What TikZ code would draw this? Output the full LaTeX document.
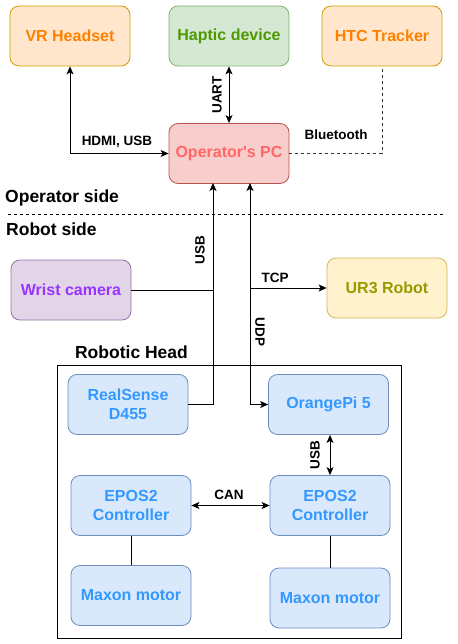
\documentclass[tikz,border=0pt]{standalone}
\usepackage{fontspec}
\setmainfont{Liberation Sans}
\usetikzlibrary{arrows.meta}
\definecolor{orFill}{HTML}{FFE6CC}\definecolor{orLine}{HTML}{D79B00}\definecolor{orText}{HTML}{FF8000}
\definecolor{grFill}{HTML}{D5E8D4}\definecolor{grLine}{HTML}{82B366}\definecolor{grText}{HTML}{4D9900}
\definecolor{rdFill}{HTML}{F8CECC}\definecolor{rdLine}{HTML}{B85450}\definecolor{rdText}{HTML}{FF6666}
\definecolor{puFill}{HTML}{E1D5E7}\definecolor{puLine}{HTML}{9673A6}\definecolor{puText}{HTML}{9933FF}
\definecolor{yeFill}{HTML}{FFF2CC}\definecolor{yeLine}{HTML}{D6B656}\definecolor{yeText}{HTML}{999900}
\definecolor{blFill}{HTML}{DAE8FC}\definecolor{blLine}{HTML}{6C8EBF}\definecolor{blText}{HTML}{3399FF}
\begin{document}
\begin{tikzpicture}[x=1pt,y=-1pt,
  box/.style={rectangle, rounded corners=9pt, minimum width=120pt, minimum height=60pt,
    line width=0.8pt, align=center, font=\bfseries\fontsize{16}{19}\selectfont, inner sep=2pt},
  orbox/.style={box, fill=orFill, draw=orLine, text=orText},
  grbox/.style={box, fill=grFill, draw=grLine, text=grText},
  rdbox/.style={box, fill=rdFill, draw=rdLine, text=rdText},
  pubox/.style={box, fill=puFill, draw=puLine, text=puText},
  yebox/.style={box, fill=yeFill, draw=yeLine, text=yeText},
  blbox/.style={box, fill=blFill, draw=blLine, text=blText},
  conn/.style={line width=0.9pt, draw=black},
  arr/.style={conn, -{Stealth[length=8pt,width=7pt,inset=2pt]}},
  darr/.style={conn, {Stealth[length=8pt,width=7pt,inset=2pt]}-{Stealth[length=8pt,width=7pt,inset=2pt]}},
  lbl/.style={font=\bfseries\fontsize{13.5}{16}\selectfont, inner sep=0pt},
  title/.style={font=\bfseries\fontsize{17.5}{20}\selectfont, inner sep=0pt}
]
\useasboundingbox (0,0) rectangle (457,644);

% nodes
\node[orbox] (vr) at (70,36) {VR Headset};
\node[grbox] (haptic) at (229,36) {Haptic device};
\node[orbox] (htc) at (382,36) {HTC Tracker};
\node[rdbox] (pc) at (229,153.5) {Operator\textquotesingle s PC};
\node[pubox] (wrist) at (71,290) {Wrist camera};
\node[yebox] (ur3) at (387,288) {UR3 Robot};
\draw[line width=0.9pt] (57,365) rectangle (401,638);
\node[blbox] (rs) at (128,404.5) {RealSense\\D455};
\node[blbox] (opi) at (328.5,404.5) {OrangePi 5};
\node[blbox] (eposL) at (131,505.5) {EPOS2\\Controller};
\node[blbox] (eposR) at (330,505.5) {EPOS2\\Controller};
\node[blbox] (maxL) at (131,595.5) {Maxon motor};
\node[blbox] (maxR) at (330,598) {Maxon motor};

% texts
\node[title, anchor=west] (opside) at (5,198) {Operator side};
\node[title, anchor=west] (rbside) at (6,229) {Robot side};
\node[title] (headlbl) at (131.5,352) {Robotic Head};
\coordinate (sepA) at (8,214);
\coordinate (sepB) at (443,214);
\draw[line width=0.9pt, dash pattern=on 3pt off 3pt] (sepA) -- (sepB);

% junction coordinates
\coordinate (usbx) at (213,183);
\coordinate (udpx) at (250,183);

% connectors
\draw[darr] (vr.south) |- (pc.west);
\node[lbl] at (117,142) {HDMI, USB};
\draw[darr] (haptic.south) -- (pc.north);
\node[lbl, rotate=90] at (217,95) {UART};
\draw[conn, draw=black!80, dash pattern=on 3pt off 3pt] (pc.east) -| (htc.south);
\node[lbl] at (336,135) {Bluetooth};

\draw[arr] (rs.east) -| (usbx);
\node[lbl, rotate=90] at (200,250) {USB};
\draw[conn] (wrist.east) -- (wrist.east -| usbx);
\draw[darr] (udpx) |- (opi.west);
\node[lbl, rotate=-90] at (260,332) {UDP};
\draw[arr] (ur3.west -| udpx) -- (ur3.west);
\node[lbl] at (275,278) {TCP};

\draw[darr] (opi.south -| eposR.north) -- (eposR.north);
\node[lbl, rotate=90] at (315,455) {USB};
\draw[darr] (eposL.east) -- (eposR.west);
\node[lbl] at (229,495) {CAN};
\draw[conn] (eposL.south) -- (maxL.north);
\draw[conn] (eposR.south) -- (maxR.north);
\end{tikzpicture}
\end{document}
